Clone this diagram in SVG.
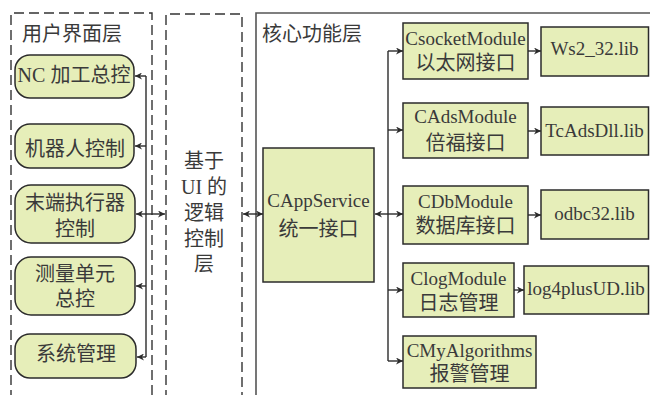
<svg xmlns="http://www.w3.org/2000/svg" width="650" height="395" viewBox="0 0 650 395">
<defs>
<marker id="ah" viewBox="0 0 10 10" refX="10" refY="5" markerWidth="7" markerHeight="7" markerUnits="userSpaceOnUse" orient="auto-start-reverse">
<path d="M0,0 L10,5 L0,10 L3,5 Z" fill="#2b2b2b"/>
</marker>
<style>
text{font-family:"Liberation Serif","Noto Sans CJK SC",serif;fill:#3a3a3a;text-anchor:middle;}
.cj{font-size:20px;}
.la{font-size:19px;}
.ttl{text-anchor:start;font-size:20px;}
.dash{fill:none;stroke:#333;stroke-width:1.4;stroke-dasharray:10 5;}
.frame{fill:none;stroke:#555;stroke-width:1.6;}
.rnd{fill:#e6eeb9;stroke:#2b2b2b;stroke-width:1.5;}
.box{fill:#e6eeb9;stroke:#2b2b2b;stroke-width:1.5;}
.ln{fill:none;stroke:#2b2b2b;stroke-width:1.4;}
.ar{fill:none;stroke:#2b2b2b;stroke-width:1.4;marker-end:url(#ah);}
.ar2{fill:none;stroke:#2b2b2b;stroke-width:1.4;marker-end:url(#ah);marker-start:url(#ah);}
</style>
</defs>

<g id="layer-ui">
<path class="dash" d="M11,400 V13 H152 V400"/>
<text class="ttl" x="22" y="41">用户界面层</text>
</g>
<g id="layer-logic">
<path class="dash" d="M166,400 V14 H242 V400"/>
<text class="cj" x="204" y="168">基于</text>
<text class="cj" x="204" y="194">UI 的</text>
<text class="cj" x="204" y="220">逻辑</text>
<text class="cj" x="204" y="246">控制</text>
<text class="cj" x="204" y="271">层</text>
</g>
<g id="layer-core">
<path class="frame" d="M256,400 V13 H660"/>
<text class="ttl" x="262" y="41">核心功能层</text>
</g>

<g id="n-nc"><rect class="rnd" x="15" y="55" width="119" height="43" rx="15"/><text class="cj" x="74" y="82">NC 加工总控</text></g>
<g id="n-robot"><rect class="rnd" x="15" y="124" width="119" height="44" rx="15"/><text class="cj" x="75" y="156">机器人控制</text></g>
<g id="n-end"><rect class="rnd" x="15" y="185" width="120" height="58" rx="16"/><text class="cj" x="75" y="210">末端执行器</text><text class="cj" x="75" y="236">控制</text></g>
<g id="n-measure"><rect class="rnd" x="15" y="257" width="120" height="58" rx="16"/><text class="cj" x="75" y="281">测量单元</text><text class="cj" x="75" y="306">总控</text></g>
<g id="n-sys"><rect class="rnd" x="15" y="334" width="121" height="44" rx="15"/><text class="cj" x="76" y="361">系统管理</text></g>

<g id="n-app"><rect class="box" x="263" y="148" width="111" height="134"/><text class="la" x="318.5" y="207">CAppService</text><text class="cj" x="318.5" y="236">统一接口</text></g>

<g id="n-socket"><rect class="box" x="403" y="23" width="125" height="56"/><text class="la" x="465.5" y="45">CsocketModule</text><text class="cj" x="465.5" y="70">以太网接口</text></g>
<g id="n-ads"><rect class="box" x="403" y="103" width="125" height="55"/><text class="la" x="465.5" y="123">CAdsModule</text><text class="cj" x="465.5" y="150">倍福接口</text></g>
<g id="n-db"><rect class="box" x="403" y="186" width="125" height="58"/><text class="la" x="465.5" y="208">CDbModule</text><text class="cj" x="465.5" y="233">数据库接口</text></g>
<g id="n-log"><rect class="box" x="403" y="263" width="111" height="54"/><text class="la" x="458.5" y="285">ClogModule</text><text class="cj" x="458.5" y="310">日志管理</text></g>
<g id="n-alg"><rect class="box" x="403" y="336" width="133" height="52"/><text class="la" x="469.5" y="357">CMyAlgorithms</text><text class="cj" x="469.5" y="381">报警管理</text></g>

<g id="n-ws2"><rect class="box" x="541" y="27" width="107.5" height="49"/><text class="la" x="594.5" y="55">Ws2_32.lib</text></g>
<g id="n-tcads"><rect class="box" x="541" y="107" width="107.5" height="48"/><text class="la" x="594.5" y="137">TcAdsDll.lib</text></g>
<g id="n-odbc"><rect class="box" x="541" y="190" width="107.5" height="49"/><text class="la" x="594.5" y="220">odbc32.lib</text></g>
<g id="n-log4"><rect class="box" x="524" y="266" width="124.5" height="48"/><text class="la" x="586" y="295">log4plusUD.lib</text></g>

<g id="connectors">
<path class="ln" d="M146,76 V357"/>
<path class="ar" d="M146,76 H135"/>
<path class="ar" d="M146,146 H135"/>
<path class="ar" d="M146,286 H136"/>
<path class="ar" d="M146,357 H137"/>
<path class="ar2" d="M136,214 H165"/>
<path class="ar2" d="M243,214 H263"/>
<path class="ar2" d="M375,214 H403"/>
<path class="ln" d="M388,51 V361"/>
<path class="ar" d="M388,51 H403"/>
<path class="ar" d="M388,130 H403"/>
<path class="ar" d="M388,290 H403"/>
<path class="ar" d="M388,361 H403"/>
<path class="ar" d="M528,51 H541"/>
<path class="ar" d="M528,131 H541"/>
<path class="ar" d="M528,215 H541"/>
<path class="ar" d="M514,290 H524"/>
</g>
</svg>
